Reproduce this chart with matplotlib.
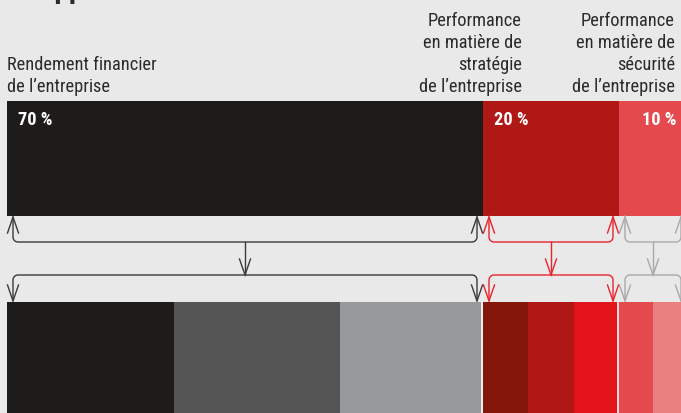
import matplotlib.pyplot as plt
from matplotlib import font_manager
import numpy as np

# choix de la police (condensée si disponible)
names = {f.name for f in font_manager.fontManager.ttflist}
font = 'DejaVu Sans'
for cand in ['Roboto Condensed', 'Liberation Sans Narrow', 'Roboto']:
    if cand in names:
        font = cand
        break
plt.rcParams['font.family'] = [font, 'DejaVu Sans']

# données
main_labels = ['Rendement financier\nde l’entreprise',
               'Performance\nen matière de\nstratégie\nde l’entreprise',
               'Performance\nen matière de\nsécurité\nde l’entreprise']
main_values = [70, 20, 10]
main_pct = ['70 %', '20 %', '10 %']
main_colors = ['#1d1c1a', '#b01815', '#e44a4d']
arrow_colors = ['#3a3a3a', '#e8242c', '#a9a9a9']

sub_values = [24.5, 24.5, 21, 6.6, 6.8, 6.6, 5, 5]
sub_colors = ['#1d1c1a', '#545554', '#98999a',
              '#85160c', '#b01815', '#e2141a',
              '#e44a4d', '#e88080']

BG = '#e8e9e8'
PX = 6.8          # pixels par %
X0 = 7            # marge gauche en pixels

fig = plt.figure(figsize=(6.81, 4.13), dpi=100)
fig.patch.set_facecolor(BG)
ax = fig.add_axes([0, 0, 1, 1])
ax.set_facecolor(BG)
ax.set_xlim(-X0 / PX, (681 - X0) / PX)
ax.set_ylim(413, 0)
ax.axis('off')


def px2pct(p):
    return (p - X0) / PX


# barre du haut
top_y0, top_y1 = 101, 216
left = 0
starts = []
for v, c in zip(main_values, main_colors):
    ax.barh((top_y0 + top_y1) / 2, v, height=top_y1 - top_y0, left=left,
            color=c, linewidth=0)
    starts.append(left)
    left += v

# barre du bas
bot_y0, bot_y1 = 302, 417
left = 0
for v, c in zip(sub_values, sub_colors):
    ax.barh((bot_y0 + bot_y1) / 2, v, height=bot_y1 - bot_y0, left=left,
            color=c, linewidth=0)
    left += v
# séparations blanches entre groupes
for s in starts[1:]:
    ax.plot([s - 0.08, s - 0.08], [bot_y0, bot_y1], color='white', lw=1.2)

# libellés au-dessus
label_x = [7, 522, 675]
label_ha = ['left', 'right', 'right']
for lab, lx, ha in zip(main_labels, label_x, label_ha):
    ax.text(px2pct(lx), 96, lab, ha=ha, va='bottom', fontsize=13.2,
            color='#2b2b2b', linespacing=1.29)

# pourcentages dans la barre
pct_off = [11, 11, 23]
for s, t, o in zip(starts, main_pct, pct_off):
    ax.text(s + o / PX, 125, t, ha='left', va='baseline', fontsize=13.2,
            fontweight='bold', color='white')

# titre (coupé en haut)
ax.text(px2pct(-11), -2.5, 'Une approche', ha='left', va='baseline',
        fontsize=21, fontweight='bold', color='#2b2b2b')


# accolades avec flèches
def arrowhead(ax, x, ytip, direction, color):
    hw = 5.5 / PX
    hl = 16 * direction
    ax.plot([x - hw, x, x + hw], [ytip + hl, ytip, ytip + hl],
            color=color, lw=1.0, solid_joinstyle='miter')


def arc(xc, yc, r, a0, a1):
    t = np.linspace(a0, a1, 12)
    return list(xc + r / PX * np.cos(t)), list(yc + r * np.sin(t))


inset = 6 / PX
r = 5
y_up, y_mid1, y_mid2, y_dn = top_y1, 242, 275, bot_y0
for s, v, c in zip(starts, main_values, arrow_colors):
    xa = s + inset
    xb = s + v - inset
    xc = (xa + xb) / 2
    # niveau haut
    ax1, ay1 = arc(xa + r / PX, y_mid1 - r, r, np.pi, np.pi / 2)
    ax2, ay2 = arc(xb - r / PX, y_mid1 - r, r, np.pi / 2, 0)
    xs = [xa] + ax1 + ax2 + [xb]
    ys = [y_up] + ay1 + ay2 + [y_up]
    ax.plot(xs, ys, color=c, lw=1.0)
    arrowhead(ax, xa, y_up + 1, 1, c)
    arrowhead(ax, xb, y_up + 1, 1, c)
    # tige centrale
    ax.plot([xc, xc], [y_mid1, y_mid2], color=c, lw=1.0)
    arrowhead(ax, xc, y_mid2, -1, c)
    # niveau bas
    bx1, by1 = arc(xa + r / PX, y_mid2 + r, r, np.pi, 3 * np.pi / 2)
    bx2, by2 = arc(xb - r / PX, y_mid2 + r, r, 3 * np.pi / 2, 2 * np.pi)
    xs = [xa] + bx1 + bx2 + [xb]
    ys = [y_dn - 1] + by1 + by2 + [y_dn - 1]
    ax.plot(xs, ys, color=c, lw=1.0)
    arrowhead(ax, xa, y_dn - 1, -1, c)
    arrowhead(ax, xb, y_dn - 1, -1, c)

fig.savefig('out.png', dpi=100, facecolor=BG)
